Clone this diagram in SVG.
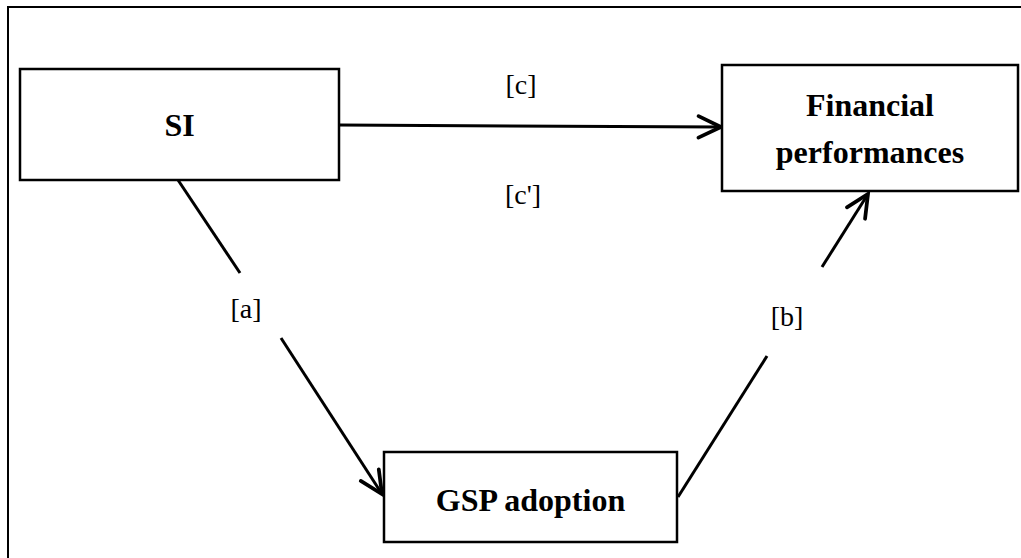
<svg xmlns="http://www.w3.org/2000/svg" width="1021" height="558" viewBox="0 0 1021 558">
  <style>
    .box { fill: #ffffff; stroke: #000000; stroke-width: 2.5; }
    .node-text { font-family: "Liberation Serif", "Times New Roman", serif; font-weight: bold; font-size: 32px; fill: #000000; text-anchor: middle; }
    .label { font-family: "Liberation Serif", "Times New Roman", serif; font-size: 28px; fill: #000000; text-anchor: middle; }
    .conn { fill: none; stroke: #000000; stroke-width: 3; }
    .frame { fill: none; stroke: #000000; stroke-width: 2; }
  </style>
  <defs>
    <marker id="arrow" markerUnits="userSpaceOnUse" markerWidth="30" markerHeight="30" viewBox="-24 -14 28 28" refX="0" refY="0" orient="auto" overflow="visible">
      <path d="M -21 -10 L 0 0 L -21 10" fill="none" stroke="#000000" stroke-width="3.5" stroke-linecap="round" stroke-linejoin="miter"/>
    </marker>
  </defs>

  <rect width="1021" height="558" fill="#ffffff"/>

  <!-- outer frame, open to the right and bottom -->
  <path class="frame" d="M 8 558 V 7 H 1021"/>

  <g id="connectors">
    <!-- SI -> Financial performances [c] -->
    <line class="conn" x1="339" y1="125" x2="721" y2="127" marker-end="url(#arrow)"/>
    <!-- SI -> GSP adoption [a] -->
    <line class="conn" x1="178" y1="180" x2="240" y2="273"/>
    <line class="conn" x1="281" y1="338" x2="382" y2="494" marker-end="url(#arrow)"/>
    <!-- GSP adoption -> Financial performances [b] -->
    <line class="conn" x1="678" y1="497" x2="767" y2="356"/>
    <line class="conn" x1="822" y1="267" x2="868" y2="194" marker-end="url(#arrow)"/>
  </g>

  <g id="labels">
    <text class="label" x="521" y="94">[c]</text>
    <text class="label" x="523" y="204">[c']</text>
    <text class="label" x="246" y="318">[a]</text>
    <text class="label" x="787" y="326">[b]</text>
  </g>

  <g id="node-si">
    <rect class="box" x="20" y="69" width="319" height="111"/>
    <text class="node-text" x="179.5" y="136">SI</text>
  </g>

  <g id="node-financial">
    <rect class="box" x="722" y="65" width="296" height="126"/>
    <text class="node-text" x="870" y="116">Financial</text>
    <text class="node-text" x="870" y="163">performances</text>
  </g>

  <g id="node-gsp">
    <rect class="box" x="384" y="452" width="293" height="90"/>
    <text class="node-text" x="530.5" y="511">GSP adoption</text>
  </g>
</svg>
